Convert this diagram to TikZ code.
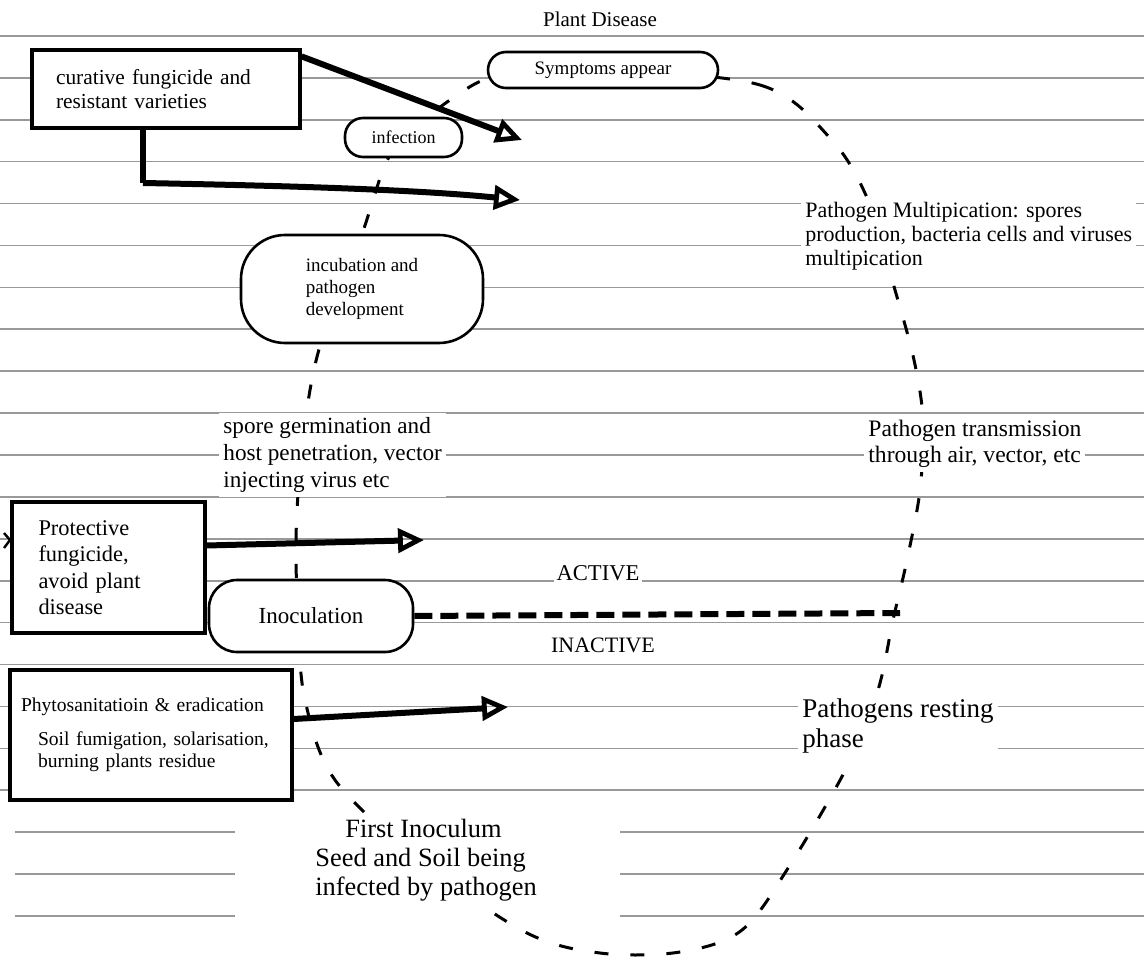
\documentclass[tikz,border=0pt]{standalone}
\usepackage{fontspec}
\setmainfont{Liberation Serif}
\usetikzlibrary{arrows.meta}
\begin{document}
\begin{tikzpicture}[x=0.5pt,y=-0.5pt]
\tikzset{
  ruleline/.style={draw=black!40, line width=0.8pt},
  loopdash/.style={draw=black, line width=1.5pt, dash pattern=on 7pt off 11pt},
  handbox/.style={draw=black, line width=1.6pt, fill=white, inner sep=0pt},
  blob/.style={draw=black, line width=1.3pt, fill=white, inner sep=0pt},
  txt/.style={fill=white, inner sep=2pt, align=left, anchor=north west},
  lbl/.style={fill=white, inner sep=1.5pt, anchor=base},
  fatarrow/.style={line width=3pt, -{Triangle[open, length=13pt, width=12pt, line width=2.4pt]}},
  grounddash/.style={line width=3pt, dash pattern=on 9pt off 4pt}
}
\useasboundingbox (0,0) rectangle (1144,962);
\fill[white] (0,0) rectangle (1144,962);

% ruled paper
\foreach \k in {0,...,18} \draw[ruleline] (0,{36+41.9*\k}) -- (1144,{36+41.9*\k});
\foreach \k in {19,20,21} {
  \draw[ruleline] (15,{36+41.9*\k}) -- (235,{36+41.9*\k});
  \draw[ruleline] (620,{36+41.9*\k}) -- (1144,{36+41.9*\k});
}

% disease cycle
\draw[loopdash] plot[smooth cycle, tension=0.55] coordinates {(600,70) (760,85) (830,138) (868,200) (895,290) (914,360) (923,420) (920,490) (907,560) (893,620) (878,690) (848,765) (790,865) (742,930) (680,952) (600,953) (525,932) (420,860) (335,780) (305,700) (298,620) (296,540) (300,470) (310,390) (325,330) (360,240) (385,165) (405,138) (450,100) (500,75)};

% title
\node[lbl, font=\fontsize{10.5}{12}\selectfont] (title) at (600,27) {Plant Disease};

% boxes
\node[handbox, minimum width=134pt, minimum height=39pt, text width=110pt, align=left,
      font=\fontsize{10.7}{12}\selectfont] (box1) at (166,89) {curative fungicide and\\resistant varieties};
\node[handbox, minimum width=96.5pt, minimum height=65.5pt, text width=70pt, align=left,
      font=\fontsize{11.2}{13.25}\selectfont] (box2) at (108.5,567.5) {Protective\\fungicide,\\avoid plant\\disease};
\node[handbox, minimum width=141pt, minimum height=65pt, text width=130pt, align=left,
      font=\fontsize{9.8}{11}\selectfont] (box3) at (151,735) {Phytosanitatioin \& eradication\\[6pt]\hspace*{8.5pt}Soil fumigation, solarisation,\\\hspace*{8.5pt}burning plants residue};

% blobs
\node[blob, rounded corners=9pt, minimum width=115pt, minimum height=18pt,
      font=\fontsize{9.5}{11}\selectfont] (symp) at (603,70) {Symptoms appear};
\node[blob, rounded corners=9pt, minimum width=58.5pt, minimum height=19.5pt,
      font=\fontsize{9}{11}\selectfont] (infect) at (403.5,137.5) {infection};
\node[blob, rounded corners=22pt, minimum width=121pt, minimum height=54pt, align=left,
      font=\fontsize{9.5}{11}\selectfont] (incub) at (362,289) {incubation and\\pathogen\\development};
\node[blob, rounded corners=14pt, minimum width=102pt, minimum height=36pt,
      font=\fontsize{11.5}{13}\selectfont] (inoc) at (311,616) {Inoculation};

% free texts
\node[txt, font=\fontsize{11.6}{13.5}\selectfont] (spore) at (219,413) {spore germination and\\host penetration, vector\\injecting virus etc};
\node[txt, font=\fontsize{11}{12}\selectfont] (mult) at (801,198) {Pathogen Multipication: spores\\production, bacteria cells and viruses\\multipication};
\node[txt, font=\fontsize{11.8}{13}\selectfont] (trans) at (864,416) {Pathogen transmission\\through air, vector, etc};
\node[txt, font=\fontsize{13.5}{15}\selectfont] (rest) at (798,694) {Pathogens resting\\phase};
\node[txt, font=\fontsize{13.2}{14.5}\selectfont] (first) at (311,815) {\hspace*{15pt}First Inoculum\\Seed and Soil being\\infected by pathogen};
\node[lbl, font=\fontsize{11.3}{12}\selectfont] (active) at (598,580) {ACTIVE};
\node[lbl, font=\fontsize{11}{12}\selectfont] (inactive) at (603,652) {INACTIVE};

% arrow ends
\coordinate (t1) at (522,140);
\coordinate (b1) at (143,183);
\coordinate (t2) at (520,200);
\coordinate (t3) at (424,540);
\coordinate (t4) at (508,707);
\coordinate (g1) at (900,613);

% control arrows
\draw[fatarrow] ([yshift=-4pt]box1.north east) -- (t1);
\draw[line width=3pt] (box1.south -| b1) -- (b1);
\draw[fatarrow] (b1) .. controls (300,186) and (420,190) .. (t2);
\draw[fatarrow] ([yshift=11pt]box2.east) -- (t3);
\draw[fatarrow] ([yshift=8pt]box3.east) -- (t4);
\draw[grounddash] (inoc.east) -- (g1);
\draw[line width=1.2pt] (4,533) -- (10,540) -- (4,548);
\end{tikzpicture}
\end{document}
